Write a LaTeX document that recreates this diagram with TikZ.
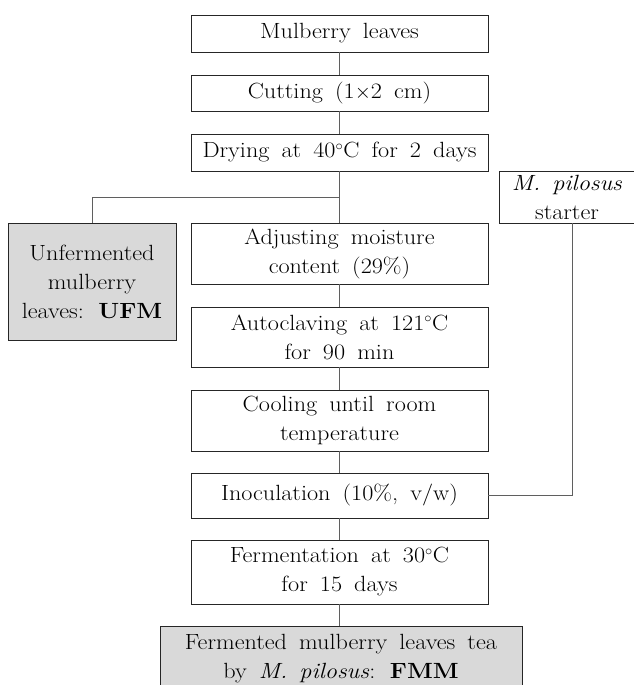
\documentclass[tikz,border=0pt]{standalone}
\usepackage{fontspec}
\setmainfont{Latin Modern Roman}[FakeStretch=1.1]
\usepackage{xcolor}
\usepackage{tikz}
\usetikzlibrary{positioning}
\definecolor{LeafGray}{HTML}{D9D9D9}
\definecolor{LinkGray}{HTML}{5F5F5F}
\newcommand{\stepfont}{\fontsize{22}{29}\selectfont\spaceskip=0.55em plus 0.1em\relax}

\begin{document}
\begin{tikzpicture}[x=1pt, y=-1pt, node distance=23pt,
    every node/.style={font=\stepfont, align=center, inner sep=0pt, outer sep=0pt},
    stepbox/.style={draw=black!85, line width=0.9pt, fill=white, minimum width=297pt},
    resultbox/.style={draw=black!85, line width=0.9pt, fill=LeafGray},
    link/.style={draw=LinkGray, line width=1pt}]
    \useasboundingbox (0,0) rectangle (634,685);
    \node[stepbox, minimum height=37pt] (leaves) at (339.5,33.5) {Mulberry leaves};
    \node[stepbox, minimum height=36pt, below=23pt of leaves] (cut) {Cutting (1$\times$2 cm)};
    \node[stepbox, minimum height=37pt, below=23pt of cut] (dry) {Drying at 40$^{\circ}$C for 2 days};
    \node[stepbox, minimum height=61pt, below=52pt of dry] (moist) {Adjusting moisture\\content (29\%)};
    \node[stepbox, minimum height=60pt, below=23pt of moist] (clave) {Autoclaving at 121$^{\circ}$C\\for 90 min};
    \node[stepbox, minimum height=61pt, below=23pt of clave] (cool) {Cooling until room\\temperature};
    \node[stepbox, minimum height=45pt, below=22pt of cool] (inoc) {Inoculation (10\%, v/w)};
    \node[stepbox, minimum height=64pt, below=22pt of inoc] (ferm) {Fermentation at 30$^{\circ}$C\\for 15 days};
    \node[resultbox, minimum width=362pt, minimum height=66pt, below=22pt of ferm, xshift=1.5pt] (fmm) {Fermented mulberry leaves tea\\by \textit{M. pilosus}: \textbf{FMM}};
    \node[resultbox, minimum width=168pt, minimum height=117pt] (ufm) at (92,281.5) {Unfermented\\mulberry\\leaves: \textbf{UFM}};
    \node[stepbox, minimum width=136pt, minimum height=52pt] (starter) at (567,197) {\textit{M. pilosus}\\starter};
    \coordinate (split) at (339.5,197);
    \draw[link] (leaves) -- (cut);
    \draw[link] (cut) -- (dry);
    \draw[link] (dry) -- (moist);
    \draw[link] (split) -| (ufm);
    \draw[link] (moist) -- (clave);
    \draw[link] (clave) -- (cool);
    \draw[link] (cool) -- (inoc);
    \draw[link] ([xshift=5pt]starter.south) |- (inoc);
    \draw[link] (inoc) -- (ferm);
    \draw[link] (ferm.south) -- (ferm.south |- fmm.north);
\end{tikzpicture}
\end{document}
